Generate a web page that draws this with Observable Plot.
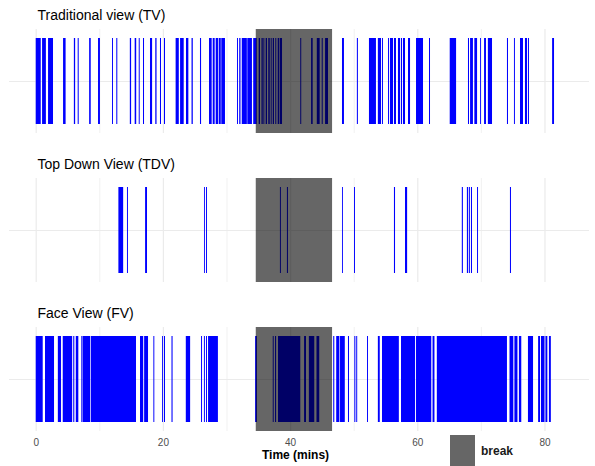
<!DOCTYPE html>
<html>
<head>
<meta charset="utf-8">
<script src="https://cdn.jsdelivr.net/npm/d3@7"></script>
<script src="https://cdn.jsdelivr.net/npm/@observablehq/plot@0.6"></script>
<style>
  html, body { margin: 0; padding: 0; background: white; }
  #wrap { position: relative; width: 595px; height: 466px; font-family: "Liberation Sans", Arial, Helvetica, sans-serif; }
  #legend { position: absolute; left: 450px; top: 435px; display: flex; align-items: center; }
  #legend .key { width: 25px; height: 31px; background: rgba(0,0,0,0.6); }
  #legend .lab { margin-left: 6px; font-size: 12px; font-weight: bold; color: #1a1a1a; }
</style>
</head>
<body>
<div id="wrap"><div id="legend"><div class="key"></div><div class="lab">break</div></div></div>
<script>
const views = ["Traditional view (TV)", "Top Down View (TDV)", "Face View (FV)"];

// event intervals [start, end] in minutes
const tvEvents = [[0,0.79],[1.0,1.6],[1.94,2.72],[4.3,4.7],[6.0,6.2],[6.6,6.76],[8.4,8.65],[9.8,10.1],[12.0,12.15],[12.67,12.83],[14.8,15.0],[15.56,15.8],[16.2,16.35],[16.87,17.03],[17.97,18.3],[18.8,19.0],[19.54,19.7],[20.17,20.33],[22.0,22.5],[22.7,23.27],[23.63,24.0],[24.5,24.7],[25.83,26.0],[27.25,27.67],[27.83,28.14],[28.3,28.66],[28.77,29.1],[29.18,29.76],[31.65,31.8],[32.0,32.2],[32.4,33.2],[33.27,34.0],[34.2,34.75],[35.06,35.27],[35.5,35.7],[35.8,35.95],[36.16,36.37],[36.57,36.8],[36.95,37.1],[37.27,37.47],[37.67,37.83],[38.05,38.3],[38.4,38.73],[41.6,41.75],[43.3,43.55],[44.2,44.65],[44.97,45.13],[45.5,45.96],[48.16,48.47],[50.5,50.66],[52.4,53.5],[53.8,54.3],[54.45,54.6],[55.4,55.55],[55.7,56.18],[56.33,56.65],[56.96,57.3],[57.44,57.6],[57.75,58.07],[58.54,58.86],[59.8,60.9],[61.84,62.0],[65.1,66.1],[67.97,68.13],[68.3,68.75],[68.97,69.4],[69.86,70.0],[70.5,70.8],[71.1,71.75],[74.1,74.26],[75.2,75.35],[76.15,76.62],[76.93,77.25],[77.4,77.56],[81.2,81.5]];

const tdvEvents = [[13.0,13.75],[14.35,14.5],[17.2,17.5],[26.46,26.6],[26.78,26.93],[38.4,38.55],[39.5,39.66],[48.16,48.3],[50.05,50.2],[56.33,56.5],[58.07,58.4],[67.0,67.17],[67.8,67.97],[68.1,68.27],[68.44,68.6],[69.4,69.55],[74.57,74.73]];

const fvEvents = [[0,1.1],[1.46,2.88],[3.48,3.98],[4.25,5.73],[5.9,6.07],[6.3,6.7],[7.17,7.33],[7.38,8.54],[8.65,15.77],[16.4,16.9],[17.05,17.66],[18.5,18.65],[19.86,20.0],[20.17,20.33],[21.35,21.52],[23.6,24.28],[26.0,26.15],[26.45,26.6],[26.78,26.93],[27.1,28.65],[34.5,34.78],[37.27,37.42],[37.63,37.8],[38.1,41.6],[42.2,42.5],[42.95,43.8],[44.15,44.58],[46.78,46.95],[47.25,47.75],[47.85,48.6],[49.1,49.26],[50.1,50.26],[50.4,50.55],[52.1,52.25],[53.8,54.1],[54.45,57.1],[57.44,59.65],[59.8,62.2],[62.4,62.7],[63.07,74.1],[74.5,75.1],[75.27,75.75],[75.98,76.35],[77.4,78.2],[79.0,79.3],[79.45,80.0],[80.15,80.45],[80.7,81.0]];

const breakPeriods = [[34.6, 46.6]];
const xTicks = [0, 20, 40, 60, 80];
const xMinor = [10, 30, 50, 70];
const xLabel = "Time (mins)";

const eventSets = [tvEvents, tdvEvents, fvEvents];
const events = views.flatMap((v, i) => eventSets[i].map(([s, e]) => ({view: v, start: s, end: e})));

const chart = Plot.plot({
  width: 595,
  height: 466,
  marginLeft: 9,
  marginRight: 6,
  marginTop: 28,
  marginBottom: 33.5,
  style: {fontFamily: '"Liberation Sans", Arial, Helvetica, sans-serif', background: "white"},
  x: {domain: [-4.2, 87], label: null},
  y: {domain: [0, 1], axis: null},
  fy: {domain: views, axis: null, paddingInner: 0.303, paddingOuter: 0},
  marks: [
    Plot.ruleX(xMinor, {stroke: "#ebebeb", strokeWidth: 0.7}),
    Plot.ruleX(xTicks, {stroke: "#ebebeb", strokeWidth: 1.2}),
    Plot.ruleY([0.5], {stroke: "#ebebeb", strokeWidth: 1.2}),
    Plot.rect(events, {x1: "start", x2: "end", fy: "view", fill: "#0000ff", insetTop: 9, insetBottom: 9}),
    Plot.rect(breakPeriods, {x1: d => d[0], x2: d => d[1], fill: "black", fillOpacity: 0.6}),
    Plot.axisX(xTicks, {tickSize: 0, tickPadding: 7, fontSize: 10, color: "#4d4d4d", label: null}),
    Plot.text(views, {fy: d => d, text: d => d, frameAnchor: "top-left", lineAnchor: "middle", dx: 28, dy: -14, fontSize: 14, fill: "black"}),
    Plot.text([xLabel], {fy: () => views[2], text: d => d, frameAnchor: "bottom", lineAnchor: "middle", dx: -4, dy: 23.5, fontSize: 12, fontWeight: "bold", fill: "black"})
  ]
});
document.getElementById("wrap").prepend(chart);
</script>
</body>
</html>
